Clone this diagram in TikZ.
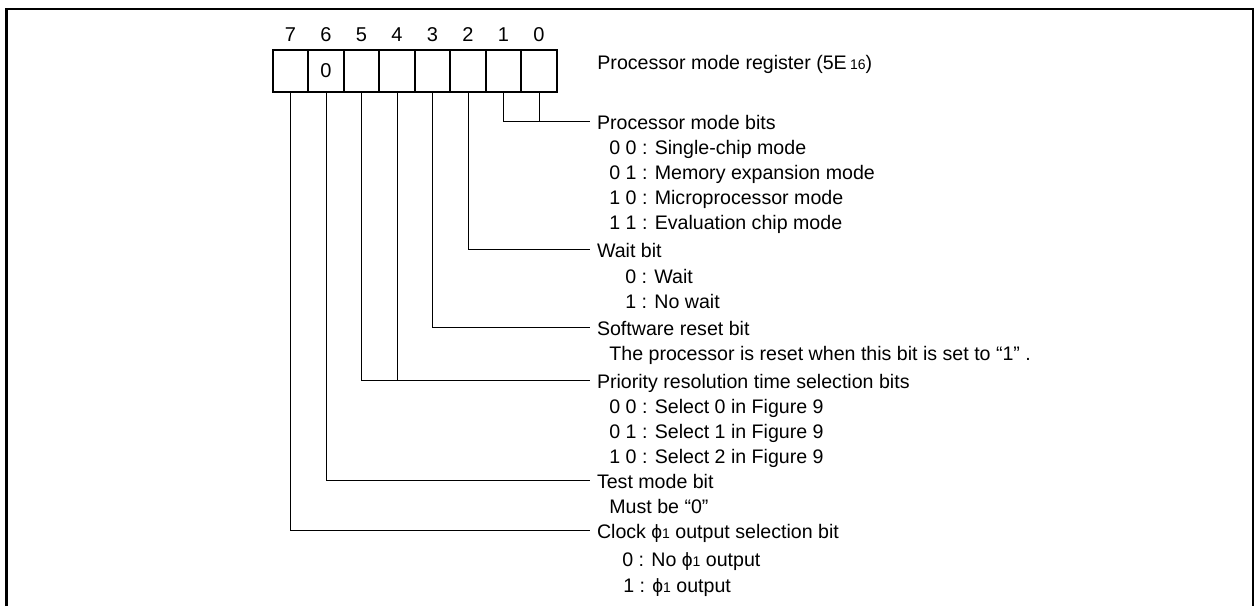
\documentclass[tikz,border=0pt]{standalone}
\usepackage{fontspec}
\setmainfont{Liberation Sans}
\usetikzlibrary{positioning}
\tikzset{
  bitbox/.style={draw, line width=1pt, minimum width=17.75pt, minimum height=21pt, inner sep=0pt},
  bitnum/.style={inner sep=0pt, text depth=0pt, font=\fontsize{10}{12}\selectfont},
  field/.style={anchor=base west, inner sep=0pt, outer xsep=3.5pt, text height=8pt, text depth=0pt},
  item/.style={anchor=base west, inner sep=0pt},
  lead/.style={line width=0.5pt},
}
\newcommand{\smallnum}[1]{{\fontsize{7}{8}\selectfont #1}}
\newcommand{\phione}{{\fontsize{9.6}{10}\selectfont ϕ}\smallnum{1}}
\begin{document}
\begin{tikzpicture}[x=0.5pt,y=-0.5pt,font=\fontsize{9.8}{12}\selectfont]
        \useasboundingbox (0,0) rectangle (1254,606);
        \draw[line width=1.2pt] (6.5,606) -- (6.5,8.7) -- (1253,8.7) -- (1253,606);

        \foreach \i in {0,...,7} {
            \node[bitbox] (b\i) at ({539-35.5*\i},71) {};
            \node[bitnum, above=3.5pt of b\i] (n\i) {\i};
        }
        \node[bitnum] (z6) at (b6) {0};

        \node[item] (reg) at (597,69) {Processor mode register (5E\,\smallnum{16})};

        \node[field] (pmb) at (590,129.3) {Processor mode bits};
        \node[item] (pmb1) at (609,154.5) {0 0 : Single-chip mode};
        \node[item] (pmb2) at (609,179.5) {0 1 : Memory expansion mode};
        \node[item] (pmb3) at (609,204.5) {1 0 : Microprocessor mode};
        \node[item] (pmb4) at (609,229.5) {1 1 : Evaluation chip mode};

        \node[field] (wait) at (590,257.3) {Wait bit};
        \node[item] (wait1) at (625,283) {0 : Wait};
        \node[item] (wait2) at (625,308.3) {1 : No wait};

        \node[field] (swr) at (590,335.5) {Software reset bit};
        \node[item] (swr1) at (609,360.5) {The processor is reset when this bit is set to “1” .};

        \node[field] (prio) at (590,388.3) {Priority resolution time selection bits};
        \node[item] (prio1) at (609,413.5) {0 0 : Select 0 in Figure 9};
        \node[item] (prio2) at (609,438.5) {0 1 : Select 1 in Figure 9};
        \node[item] (prio3) at (609,463.5) {1 0 : Select 2 in Figure 9};

        \node[field] (test) at (590,488) {Test mode bit};
        \node[item] (test1) at (609,513) {Must be “0”};

        \node[field] (clk) at (590,538.3) {Clock \phione{} output selection bit};
        \node[item] (clk1) at (622,566) {0 : No \phione{} output};
        \node[item] (clk2) at (623,592.5) {1 : \phione{} output};

        \draw[lead] (b1.south) |- (pmb.west);
        \draw[lead] (b0.south) |- (pmb.west);
        \draw[lead] (b2.south) |- (wait.west);
        \draw[lead] (b3.south) |- (swr.west);
        \draw[lead] (b5.south) |- (prio.west);
        \draw[lead] (b4.south) |- (prio.west);
        \draw[lead] (b6.south) |- (test.west);
        \draw[lead] (b7.south) |- (clk.west);
    \end{tikzpicture}
\end{document}
